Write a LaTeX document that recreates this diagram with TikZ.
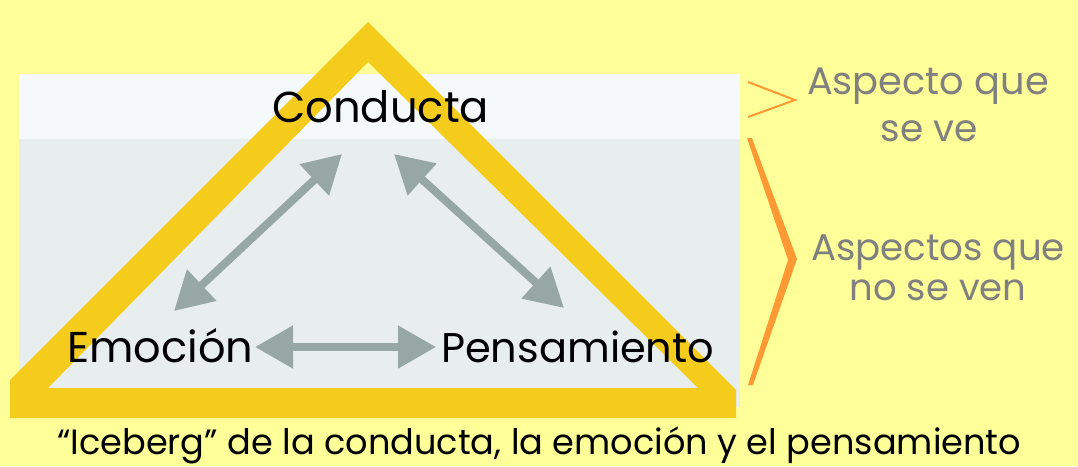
\documentclass[tikz,border=0pt]{standalone}
\usepackage{fontspec}
\setmainfont{Poppins}
\usetikzlibrary{arrows.meta}
\definecolor{bgyellow}{HTML}{FFFF99}
\definecolor{bandtop}{HTML}{F5F9FA}
\definecolor{bandlow}{HTML}{E8EDED}
\definecolor{trigold}{HTML}{F5CB1C}
\definecolor{arrowgrey}{HTML}{97A8A4}
\definecolor{bracecol}{HTML}{FF9933}
\definecolor{sidegrey}{HTML}{808080}
\newcommand\fitw[2]{\resizebox{#1}{!}{#2}}
\tikzset{
  lbl/.style={inner sep=0pt, anchor=base west, text=black},
  side/.style={inner sep=0pt, anchor=base, text=sidegrey},
  dbl/.style={arrowgrey, line width=8pt,
    {Triangle[length=38pt,width=41pt]}-{Triangle[length=38pt,width=41pt]}},
}
\begin{document}
\begin{tikzpicture}[x=1pt,y=-1pt]
\useasboundingbox (0,0) rectangle (1078,466);
\fill[bgyellow] (0,0) rectangle (1078,466);
% panel
\fill[bandlow] (19,139) rectangle (740,407);
\fill[bandtop] (19,74) rectangle (740,139);
% triangle frame
\fill[trigold, even odd rule]
  (368,22) -- (736,390) -- (736,418) -- (10,418) -- (10,380) -- cycle
  (368,62) -- (48,388) -- (698,388) -- cycle;
% labels
\node[lbl] (co) at (272,122) {\fitw{217pt}{\fontsize{42}{48}\selectfont Conducta}};
\node[lbl] (em) at (67,362) {\fitw{186pt}{\fontsize{42}{48}\selectfont Emoción}};
\node[lbl] (pe) at (441,362) {\fitw{273pt}{\fontsize{42}{48}\selectfont Pensamiento}};
\node[lbl] (cap) at (57,454) {\fitw{964pt}{\fontsize{30}{36}\selectfont “Iceberg” de la conducta, la emoción y el pensamiento}};
\node[side] (s1) at (928,94) {\fitw{242pt}{\fontsize{36}{40}\selectfont Aspecto que}};
\node[side] (s2) at (929,141) {\fitw{97pt}{\fontsize{36}{40}\selectfont se ve}};
\node[side] (s3) at (938,260) {\fitw{254pt}{\fontsize{36}{40}\selectfont Aspectos que}};
\node[side] (s4) at (938,300) {\fitw{177pt}{\fontsize{36}{40}\selectfont no se ven}};
% arrow ends
\coordinate (a1e) at (174,311);
\coordinate (a1c) at (342,154);
\coordinate (a2c) at (394,154);
\coordinate (a2p) at (564,308);
\coordinate (a3e) at (255,347);
\coordinate (a3p) at (436,347);
\draw[dbl] (a1e) -- (a1c);
\draw[dbl] (a2c) -- (a2p);
\draw[dbl] (a3e) -- (a3p);
% side marks
\coordinate (v1) at (748,82);
\coordinate (v2) at (795,100);
\coordinate (v3) at (748,117);
\draw[bracecol, line width=2pt, line join=miter] (v1) -- (v2) -- (v3);
\fill[bracecol] (752,138) -- (797,259) -- (753,385) -- (748,385) -- (788,260) -- (747,138) -- cycle;
\end{tikzpicture}
\end{document}
